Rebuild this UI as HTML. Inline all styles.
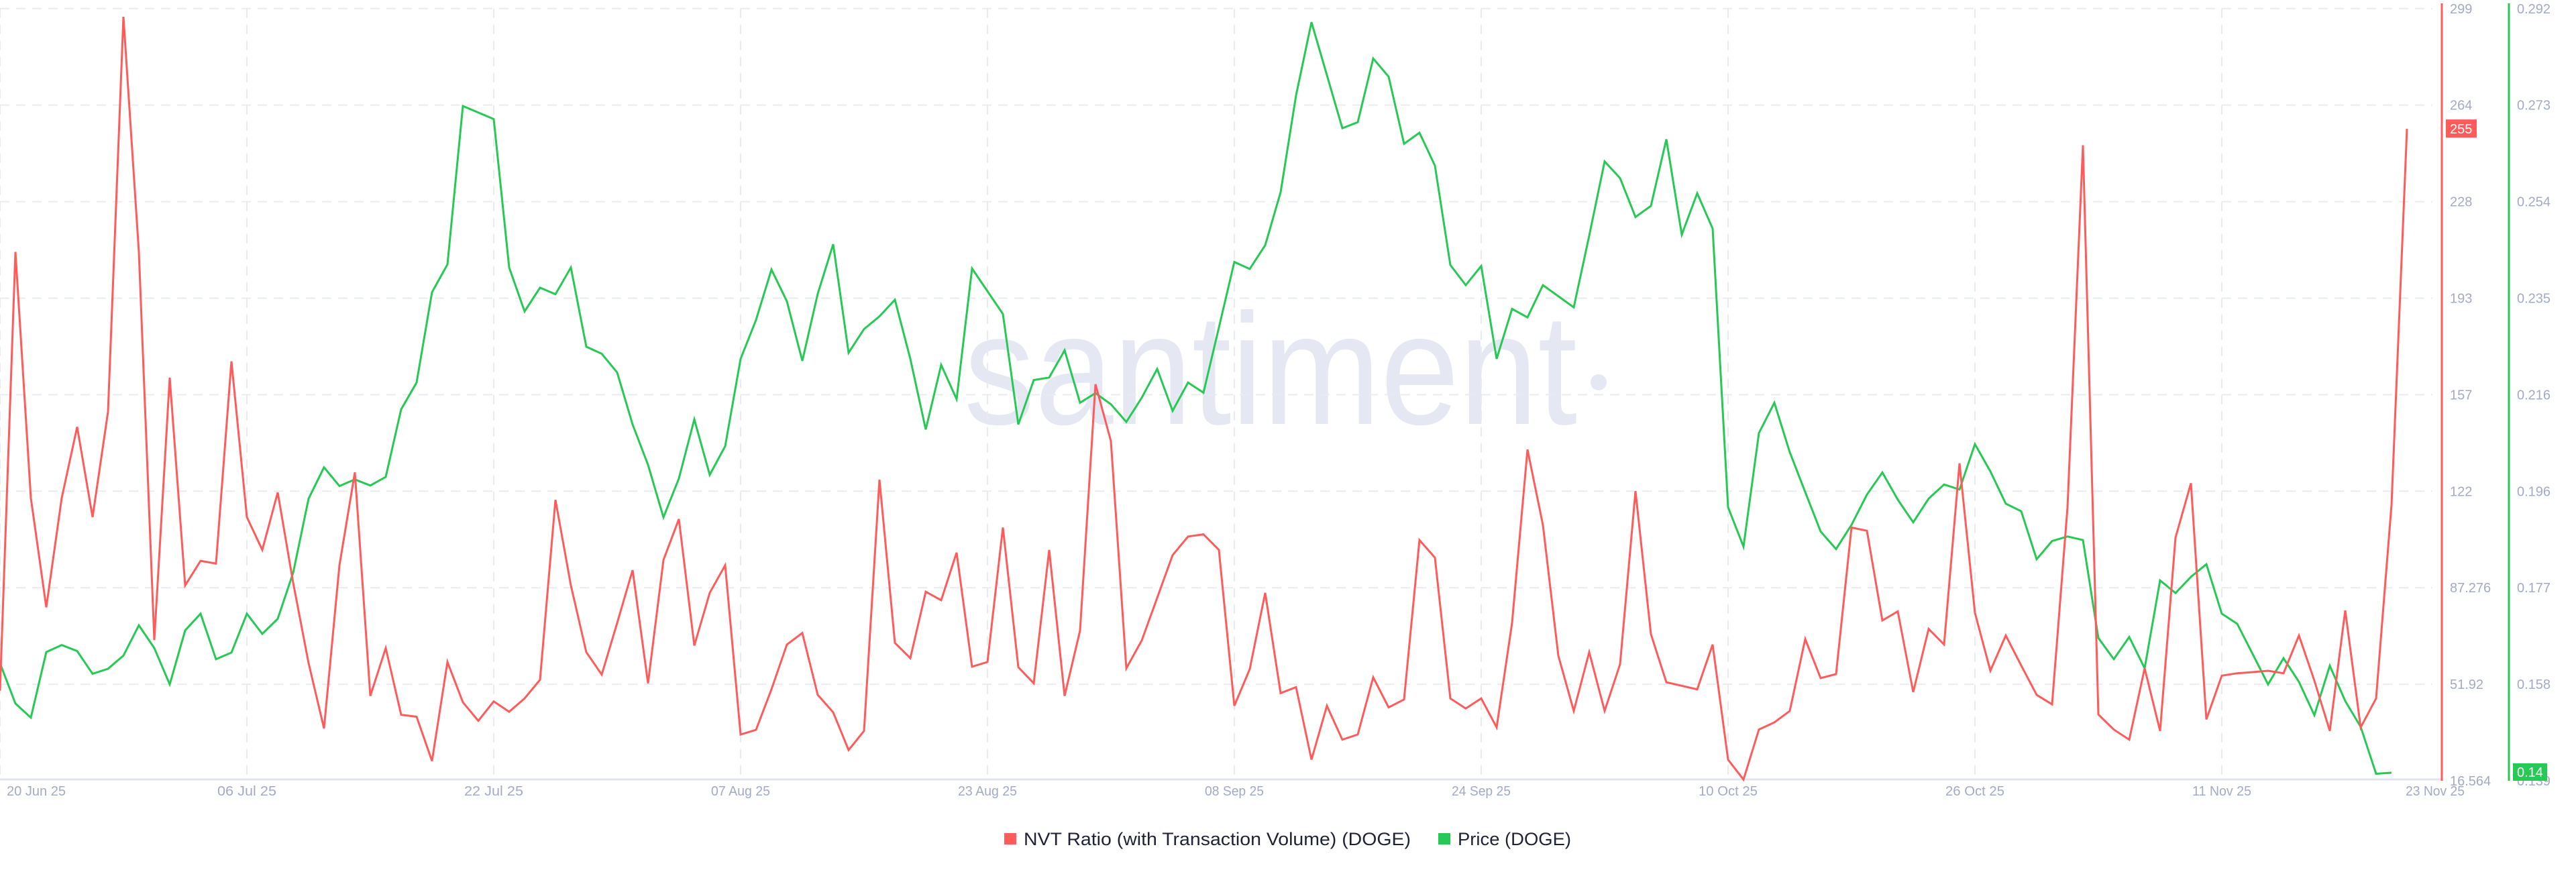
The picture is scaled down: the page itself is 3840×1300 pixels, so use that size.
<!DOCTYPE html>
<html><head><meta charset="utf-8"><style>
html,body{margin:0;padding:0;background:#fff;}
svg{display:block;font-family:"Liberation Sans",sans-serif;}
</style></head><body>
<svg id="chart" width="3840" height="1300" viewBox="0 0 3840 1300" xmlns="http://www.w3.org/2000/svg">
<text x="1437" y="632" font-size="236" fill="#e5e8f2" textLength="914" lengthAdjust="spacingAndGlyphs">santiment</text>
<circle cx="2383" cy="570" r="12" fill="#e5e8f2"/>
<g id="grid"></g>
<g id="xaxis"></g>
<g id="yaxes"></g>
<g id="series"></g>
<g>
<rect x="1497" y="1242" width="18" height="17" fill="#ff5b5b"/>
<text x="1526" y="1260" font-size="27" fill="#1e2235" textLength="577" lengthAdjust="spacingAndGlyphs">NVT Ratio (with Transaction Volume) (DOGE)</text>
<rect x="2144" y="1242" width="18" height="17" fill="#26c953"/>
<text x="2173" y="1260" font-size="27" fill="#1e2235" textLength="169" lengthAdjust="spacingAndGlyphs">Price (DOGE)</text>
</g>
</svg>
<script>
const nvtValues=[49.5,210,120,80,120,146,113,151.5,296,210,68,164,88,97,96,170,113,101,122,89,59.6,35.7,95.4,129.4,47.6,65.1,40.7,40,23.8,60,45.3,38.5,45.6,41.8,46.7,53.5,119.3,88,63.6,55.4,74.3,93.6,
52.2,97.3,112.3,66,85.3,95.4,33.5,35.2,50,66.4,70.6,48,41.6,27.8,34.8,126.7,67,61.4,85.7,82.6,100,58.3,60,109.2,58.1,52.2,101,47.6,71.5,161.6,140.8,57.7,67.9,83.5,99.1,105.9,106.7,101,44,
57.4,85.3,48.6,50.8,24.3,44,31.6,33.5,54.4,43.4,46.3,104.6,98.2,46.7,43,46.7,36.1,74.3,137.7,110.1,62.3,42.1,63.6,42.1,59.2,122.5,70.2,52.6,51.3,50,66.4,24.3,17,35.3,37.9,42.1,68.4,54.1,55.6,
109.2,108,75.2,78.5,49,72.1,66.4,132.7,78,56.8,69.7,58.7,48,44.5,116.6,249,40.8,35.3,31.6,57.7,34.8,105.5,125.4,39,55,55.9,56.3,56.8,55.9,69.7,53.2,34.8,78.9,36.1,46.7,117.5,255];
const priceValues=[0.1623,0.1543,0.1515,0.1645,0.1659,0.1647,0.1602,0.1612,0.1638,0.1698,0.1653,0.1581,0.1688,0.1721,0.1631,0.1644,0.1721,0.1681,0.1711,0.1802,0.1949,0.2011,0.1974,0.1987,0.1975,0.1992,0.2126,0.2179,0.2358,0.2413,0.2727,0.2714,0.2701,0.2407,0.2320,0.2367,0.2354,0.2407,0.2250,0.2236,0.2199,0.2096,
0.2016,0.1912,0.1989,0.2106,0.1996,0.2053,0.2226,0.2303,0.2403,0.2340,0.2222,0.2355,0.2453,0.2238,0.2285,0.2310,0.2343,0.2226,0.2086,0.2214,0.2146,0.2405,0.2360,0.2315,0.2096,0.2184,0.2189,0.2243,0.2139,0.2158,0.2136,0.2101,0.2149,0.2206,0.2123,0.2179,0.2159,0.2288,0.2418,
0.2404,0.2451,0.2556,0.2748,0.2893,0.2788,0.2683,0.2695,0.2821,0.2785,0.2652,0.2674,0.2609,0.2412,0.2372,0.2410,0.2226,0.2325,0.2308,0.2372,0.2350,0.2328,0.2470,0.2617,0.2584,0.2507,0.2529,0.2661,0.2472,0.2554,0.2484,0.1932,0.1854,0.2079,0.2139,0.2041,0.1962,0.1884,0.1849,
0.1897,0.1957,0.2001,0.1947,0.1902,0.1949,0.1977,0.1967,0.2057,0.2003,0.1939,0.1924,0.1829,0.1865,0.1874,0.1867,0.1673,0.1631,0.1675,0.1613,0.1787,0.1762,0.1794,0.1819,0.1721,0.1701,0.1641,0.1581,0.1633,0.1586,0.1520,0.1618,0.1548,0.1497,0.1404,0.1406];
const nvtTicks=["299","264","228","193","157","122","87.276","51.92","16.564"];
const priceTicks=["0.292","0.273","0.254","0.235","0.216","0.196","0.177","0.158","0.139"];
const dateLabels=["20 Jun 25","06 Jul 25","22 Jul 25","07 Aug 25","23 Aug 25","08 Sep 25","24 Sep 25","10 Oct 25","26 Oct 25","11 Nov 25","23 Nov 25"];
const dateDays=[0,16,32,48,64,80,96,112,128,144,156];
const nvtMin=16.564,nvtMax=299,priceMin=0.139,priceMax=0.292;

const NS="http://www.w3.org/2000/svg";
const TOP=12.75,BOT=1164,DAYW=23;
function xDay(d){return d*DAYW;}
function yNvt(v){return BOT-(v-nvtMin)/(nvtMax-nvtMin)*(BOT-TOP);}
function yPrice(v){return BOT-(v-priceMin)/(priceMax-priceMin)*(BOT-TOP);}
function mk(tag,attrs,parent){const e=document.createElementNS(NS,tag);for(const k in attrs)e.setAttribute(k,attrs[k]);parent.appendChild(e);return e;}
const grid=document.getElementById('grid'),xa=document.getElementById('xaxis'),ya=document.getElementById('yaxes'),se=document.getElementById('series');

nvtTicks.forEach((t,i)=>{
  const y=TOP+i*(BOT-TOP)/(nvtTicks.length-1);
  if(i<nvtTicks.length-1){
    const l=mk('line',{x1:0,x2:3626,y1:y,y2:y,stroke:'#e9ebf3','stroke-width':2,'stroke-dasharray':'14 10'},grid);
    
    
  }
  const tx=mk('text',{x:3652,y:y+7,'font-size':20,fill:'#a3abc4'},ya);
  
  
  tx.textContent=t;
  const tp=mk('text',{x:3752,y:y+7,'font-size':20,fill:'#a3abc4'},ya);
  
  
  tp.textContent=priceTicks[i];
});
dateDays.forEach((d,i)=>{
  const x=xDay(d);
  if(i<dateDays.length-1){
    const l=mk('line',{x1:x,x2:x,y1:TOP,y2:BOT,stroke:'#e9ebf3','stroke-width':2,'stroke-dasharray':'14 10'},grid);
    
    
  }
  let cx=x, anchor='middle';
  if(i===0){cx=10;anchor='start';}
  if(i===dateDays.length-1){cx=x+42;}
  const t=mk('text',{x:cx,y:1186,'font-size':20,fill:'#a3abc4','text-anchor':anchor,textLength:88,lengthAdjust:'spacingAndGlyphs'},xa);
  
  
  t.textContent=dateLabels[i];
});
const base=mk('line',{x1:0,x2:3640,y1:BOT-2,y2:BOT-2,stroke:'#e0e3ee','stroke-width':3},xa);


const ra=mk('line',{x1:3640,x2:3640,y1:5,y2:BOT,stroke:'#ff5b5b','stroke-width':3},ya);


const ga=mk('line',{x1:3740,x2:3740,y1:5,y2:BOT,stroke:'#26c953','stroke-width':3},ya);



const pp=mk('polyline',{points:priceValues.map((v,i)=>xDay(i)+','+yPrice(v).toFixed(1)).join(' '),fill:'none',stroke:'#26c953','stroke-width':3,'stroke-linejoin':'miter'},se);


const np=mk('polyline',{points:nvtValues.map((v,i)=>xDay(i)+','+yNvt(v).toFixed(1)).join(' '),fill:'none',stroke:'#ff5b5b','stroke-width':3,'stroke-linejoin':'miter'},se);



const lastN=nvtValues[nvtValues.length-1], lyN=yNvt(lastN);
const rb=mk('rect',{x:3646,y:lyN-14,width:46,height:27,fill:'#ff5b5b'},ya);


const rt=mk('text',{x:3652,y:lyN+7,'font-size':20,fill:'#fff'},ya);


rt.textContent=String(Math.round(lastN));
const lastP=priceValues[priceValues.length-1], lyP=Math.min(yPrice(lastP),BOT-13);
const gb=mk('rect',{x:3746,y:lyP-13,width:51,height:26,fill:'#26c953'},ya);


const gt=mk('text',{x:3752,y:lyP+7,'font-size':20,fill:'#fff'},ya);


gt.textContent=lastP.toFixed(2);
</script>
</body></html>
